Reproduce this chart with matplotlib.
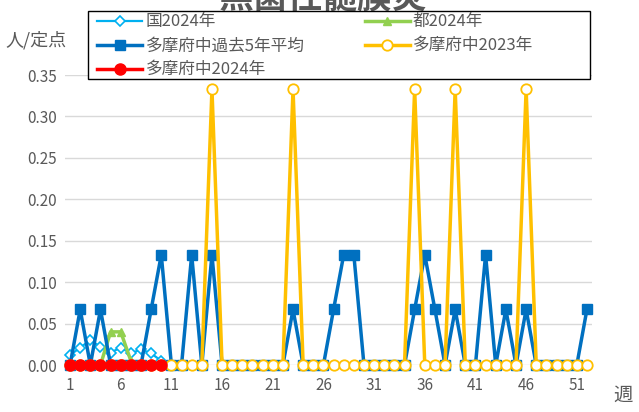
import matplotlib
matplotlib.use("Agg")
import matplotlib.pyplot as plt
from matplotlib.ticker import MultipleLocator, FixedLocator
from matplotlib.patches import Rectangle

plt.rcParams['font.family'] = ['Noto Sans CJK JP', 'DejaVu Sans']

weeks = list(range(1, 53))
past5 = [0, 0.067, 0, 0.067, 0, 0, 0, 0, 0.067, 0.133,
         0, 0, 0.133, 0, 0.133, 0, 0, 0, 0, 0,
         0, 0, 0.067, 0, 0, 0, 0.067, 0.133, 0.133, 0,
         0, 0, 0, 0, 0.067, 0.133, 0.067, 0, 0.067, 0,
         0, 0.133, 0, 0.067, 0, 0.067, 0, 0, 0, 0,
         0, 0.067]
y2023 = [0, 0, 0, 0, 0, 0, 0, 0, 0, 0,
         0, 0, 0, 0, 0.333, 0, 0, 0, 0, 0,
         0, 0, 0.333, 0, 0, 0, 0, 0, 0, 0,
         0, 0, 0, 0, 0.333, 0, 0, 0, 0.333, 0,
         0, 0, 0, 0, 0, 0.333, 0, 0, 0, 0,
         0, 0]
weeks2024 = list(range(1, 11))
japan2024 = [0.012, 0.021, 0.030, 0.022, 0.015, 0.021, 0.014, 0.019, 0.014, 0.005]
tokyo2024 = [0.0, 0.0, 0.0, 0.0, 0.04, 0.04, 0.005, 0.0, 0.0, 0.0]
tama2024 = [0, 0, 0, 0, 0, 0, 0, 0, 0, 0]

labels = ['国2024年', '都2024年', '多摩府中過去5年平均', '多摩府中2023年', '多摩府中2024年']
xtick_labels = [1, 6, 11, 16, 21, 26, 31, 36, 41, 46, 51]

gray = '#595959'
fig = plt.figure(figsize=(6.39, 4.12), dpi=100)
ax = fig.add_axes([65/639, 1-365/412, 527/639, 290/412])

h_jp, = ax.plot(weeks2024, japan2024, color='#00B0F0', lw=1.6, marker='D', ms=5,
                mfc='white', mec='#00B0F0', mew=1.2, clip_on=False, zorder=3)
h_tk, = ax.plot(weeks2024, tokyo2024, color='#92D050', lw=2.5, marker='^', ms=6,
                mfc='#92D050', mec='#92D050', clip_on=False, zorder=3)
h_p5, = ax.plot(weeks, past5, color='#0070C0', lw=2.5, marker='s', ms=7,
                mfc='#0070C0', mec='#0070C0', clip_on=False, zorder=4)
h_23, = ax.plot(weeks, y2023, color='#FFC000', lw=2.5, marker='o', ms=7.5,
                mfc='white', mec='#FFC000', mew=1.3, clip_on=False, zorder=5)
h_24, = ax.plot(weeks2024, tama2024, color='#FF0000', lw=2.5, marker='o', ms=8,
                mfc='#FF0000', mec='#FF0000', clip_on=False, zorder=6)

ax.set_xlim(0.5, 52.5)
ax.set_ylim(0, 0.35)
ax.yaxis.set_major_locator(MultipleLocator(0.05))
ax.set_yticklabels([f'{v:.2f}' for v in ax.get_yticks()])
ax.xaxis.set_major_locator(FixedLocator(xtick_labels))
ax.set_xticklabels([str(v) for v in xtick_labels])
ax.grid(axis='y', color='#D9D9D9', lw=1)
ax.set_axisbelow(True)
for s in ax.spines.values():
    s.set_visible(False)
ax.tick_params(axis='both', length=0, labelsize=11, labelcolor=gray)
ax.tick_params(axis='x', pad=9)
ax.tick_params(axis='y', pad=6)

fig.text(5/639, 1-40/412, '人/定点', fontsize=13, color=gray, ha='left', va='center')
fig.text(623/639, 1-395/412, '週', fontsize=14, color=gray, ha='center', va='center')
fig.text(322/639, 1 + 2/412, '無菌性髄膜炎', fontsize=25, fontweight='bold', color=gray,
         ha='center', va='center')

# legend box
fig.patches.append(Rectangle((88/639, 1-79/412), 502/639, 68/412, transform=fig.transFigure,
                             fill=True, facecolor='white', edgecolor='black', lw=1, zorder=10))
handles = [h_jp, h_p5, h_24, h_tk, h_23]
hl = [labels[0], labels[2], labels[4], labels[1], labels[3]]
leg = fig.legend(handles, hl, ncol=2, loc='upper left',
                 bbox_to_anchor=(94/639, 1-10/412),
                 bbox_transform=fig.transFigure, frameon=False,
                 fontsize=12, handlelength=2.7, borderaxespad=0,
                 labelspacing=0.42, handletextpad=0.2, borderpad=0.2, columnspacing=3.6)
leg.set_zorder(11)
for t in leg.get_texts():
    t.set_color(gray)

fig.savefig('out.png', dpi=100)
